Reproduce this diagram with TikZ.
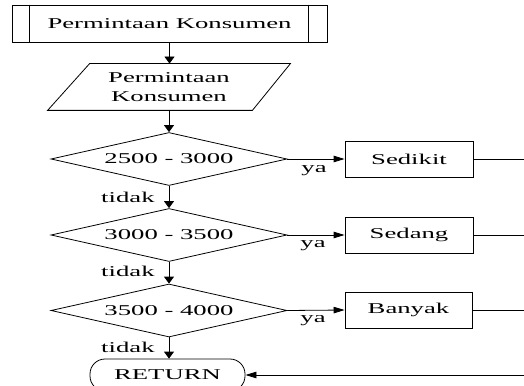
\documentclass[tikz,border=0pt]{standalone}
\usepackage{fontspec}
\setmainfont{Liberation Serif}[FakeStretch=1.78]
\usetikzlibrary{shapes.geometric,arrows.meta}
\begin{document}
\begin{tikzpicture}[x=1pt,y=-1pt,
  line width=0.8pt,
  every node/.style={font=\fontsize{15}{19}\selectfont, inner sep=0pt},
  box/.style={draw, rectangle, minimum width=#1, minimum height=36pt},
  dec/.style={draw, diamond, aspect=4.45, minimum width=236pt, minimum height=53pt},
  varr/.style={-{Triangle[length=7pt,width=10pt]}},
  harr/.style={-{Triangle[length=11pt,width=6.5pt]}},
  yalbl/.style={anchor=north west},
  nolbl/.style={anchor=east}
]
\useasboundingbox (0,0) rectangle (524,385);
\clip (0,0) rectangle (524,385);

% predefined process
\node[draw, rectangle, minimum width=315pt, minimum height=37pt] (proc) at (169.5,23.5) {Permintaan Konsumen};
\draw ([xshift=18pt]proc.north west) -- ([xshift=18pt]proc.south west);
\draw ([xshift=-19pt]proc.north east) -- ([xshift=-19pt]proc.south east);

% input parallelogram
\node[rectangle, minimum width=242pt, minimum height=46pt, align=center] (inp) at (169,87) {Permintaan\\Konsumen};
\draw (inp.south west) -- ([xshift=-38pt]inp.south east) -- (inp.north east) -- ([xshift=42pt]inp.north west) -- cycle;

% decisions
\node[dec] (d1) at (169,159) {2500 - 3000};
\node[dec] (d2) at (169,235) {3000 - 3500};
\node[dec] (d3) at (169,310.5) {3500 - 4000};

% boxes
\node[box=128pt] (s1) at (409,159) {Sedikit};
\node[box=128pt] (s2) at (409,235) {Sedang};
\node[box=127pt] (s3) at (408.5,310) {Banyak};

% return
\node[draw, rectangle, rounded corners=15pt, minimum width=155pt, minimum height=32pt] (ret) at (167.5,375) {RETURN};

% vertical flow
\draw[varr] (proc.south) -- (proc.south |- inp.north);
\draw[varr] (inp.south) -- (d1.north);
\draw[varr] (d1.south) -- (d2.north);
\draw[varr] (d2.south) -- (d3.north);
\draw[varr] (d3.south) -- (d3.south |- ret.north);

% ya branches
\draw[harr] (d1.east) -- (s1.west);
\draw[harr] (d2.east) -- (s2.west);
\draw[harr] (d3.east) -- (s3.west);

\node[yalbl] (ya1) at (301,165) {ya};
\node[yalbl] (ya2) at (300,240) {ya};
\node[yalbl] (ya3) at (300,315) {ya};
\node[nolbl] (t1) at (155,197) {tidak};
\node[nolbl] (t2) at (155,271.5) {tidak};
\node[nolbl] (t3) at (155,347) {tidak};

% return line
\coordinate (c) at (535,375);
\draw (s1.east) -- (s1.east -| c) -- (c);
\draw (s2.east) -- (s2.east -| c);
\draw (s3.east) -- (s3.east -| c);
\draw[harr] (c) -- (ret.east);
\end{tikzpicture}
\end{document}
